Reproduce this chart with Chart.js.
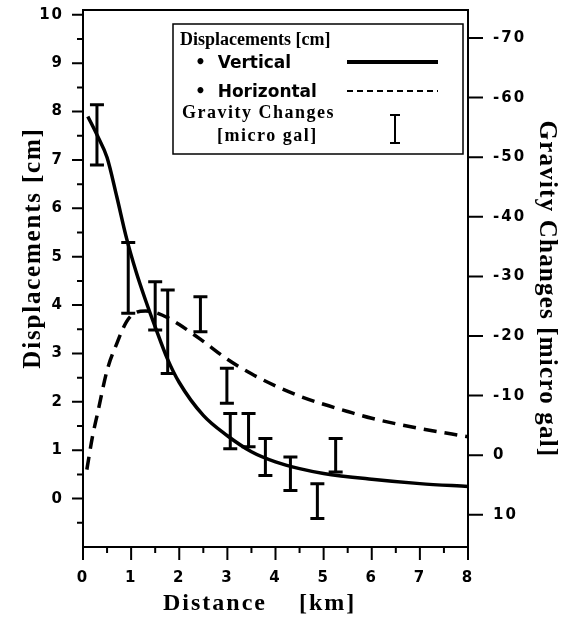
<!DOCTYPE html>
<html>
<head>
<meta charset="utf-8">
<script src="https://cdn.jsdelivr.net/npm/chart.js@4.4.1/dist/chart.umd.min.js"></script>
<style>
  html, body { margin: 0; padding: 0; background: #fff; }
  canvas { display: block; }
</style>
</head>
<body>
<canvas id="dispChart" width="570" height="621"></canvas>
<script>
// vertical displacement curve, distance [km] -> displacement [cm]
const vertX = [0.1, 0.3, 0.5, 0.7, 0.9, 1.1, 1.3, 1.5, 1.75, 2.0, 2.5, 3.0, 3.5, 4.0, 4.5, 5.0, 6.0, 7.0, 8.0];
const vertDisp = [7.9, 7.5, 7.05, 6.25, 5.4, 4.7, 4.1, 3.55, 2.9, 2.4, 1.72, 1.3, 0.97, 0.76, 0.62, 0.52, 0.4, 0.31, 0.25];

// horizontal displacement curve
const horizX = [0.08, 0.2, 0.3, 0.5, 0.7, 0.9, 1.1, 1.3, 1.5, 1.8, 2.0, 2.5, 3.0, 3.5, 4.0, 4.5, 5.0, 5.5, 6.0, 7.0, 8.0];
const horizDisp = [0.6, 1.3, 1.75, 2.65, 3.2, 3.65, 3.85, 3.88, 3.85, 3.72, 3.6, 3.25, 2.88, 2.58, 2.33, 2.12, 1.95, 1.8, 1.66, 1.45, 1.28];

// gravity changes [micro gal], error bar ends
const gravX = [0.29, 0.94, 1.5, 1.76, 2.44, 2.99, 3.06, 3.44, 3.79, 4.31, 4.87, 5.25];
const gravTop = [-58.8, -35.7, -29.1, -27.7, -26.6, -14.6, -7.0, -7.0, -2.8, 0.3, 4.8, -2.8];
const gravBottom = [-48.7, -23.8, -21.0, -13.7, -20.7, -8.7, -1.1, -1.4, 3.4, 5.9, 10.6, 2.8];

// tick labels
const xTicks = [0, 1, 2, 3, 4, 5, 6, 7, 8];
const yTicks = [0, 1, 2, 3, 4, 5, 6, 7, 8, 9, 10];
const gravTicks = [-70, -60, -50, -40, -30, -20, -10, 0, 10];

const tickFont = { family: 'DejaVu Sans', weight: 'bold', size: 15 };
const serif = '"Liberation Serif", "Times New Roman", serif';

// tick positions every half unit (minor ticks have no label)
function halfSteps(from, to) {
  const out = [];
  for (let v = from; v <= to + 1e-9; v += 0.5) out.push(v);
  return out;
}

const toPoints = (xs, ys) => xs.map((x, i) => ({ x: x, y: ys[i] }));

// fixed box size, no extra label padding around the plot
function fixBox(w, h) {
  return s => {
    if (w) s.width = w;
    if (h) s.height = h;
    s.paddingTop = 0; s.paddingBottom = 0; s.paddingLeft = 0; s.paddingRight = 0;
  };
}

const figurePlugin = {
  id: 'figure',
  beforeDraw(chart) {
    chart.ctx.letterSpacing = '2px';
  },
  afterDraw(chart) {
    const ctx = chart.ctx;
    const { left, right, top, bottom } = chart.chartArea;
    const sx = chart.scales.x, sy = chart.scales.y, sg = chart.scales.y2;
    ctx.save();
    ctx.letterSpacing = '0px';
    ctx.strokeStyle = '#000';
    ctx.fillStyle = '#000';

    // error bars for gravity changes
    ctx.lineWidth = 3;
    gravX.forEach((gx, i) => {
      const px = sx.getPixelForValue(gx);
      const y1 = sg.getPixelForValue(gravTop[i]);
      const y2 = sg.getPixelForValue(gravBottom[i]);
      ctx.beginPath();
      ctx.moveTo(px, y1); ctx.lineTo(px, y2);
      ctx.moveTo(px - 7, y1); ctx.lineTo(px + 7, y1);
      ctx.moveTo(px - 7, y2); ctx.lineTo(px + 7, y2);
      ctx.stroke();
    });

    // frame
    ctx.lineWidth = 2;
    ctx.strokeRect(left, top, right - left, bottom - top);

    // tick marks
    ctx.beginPath();
    halfSteps(0, 8).forEach(v => {
      const px = sx.getPixelForValue(v);
      const len = Number.isInteger(v) ? 13 : 6;
      ctx.moveTo(px, bottom); ctx.lineTo(px, bottom + len);
    });
    halfSteps(-0.5, 10).forEach(v => {
      const py = sy.getPixelForValue(v);
      const len = Number.isInteger(v) ? 11 : 6;
      ctx.moveTo(left, py); ctx.lineTo(left - len, py);
    });
    gravTicks.forEach(v => {
      const py = sg.getPixelForValue(v);
      ctx.moveTo(right, py); ctx.lineTo(right + 15, py);
    });
    ctx.stroke();

    // legend box
    ctx.lineWidth = 1.5;
    ctx.strokeRect(173, 24, 290, 130);
    ctx.textAlign = 'left';
    ctx.textBaseline = 'alphabetic';
    ctx.font = 'bold 18px ' + serif;
    ctx.fillText('Displacements [cm]', 180, 45);
    ctx.font = 'bold 17px "DejaVu Sans"';
    ctx.fillText('\u2022  Vertical', 195, 68);
    ctx.fillText('\u2022  Horizontal', 195, 97);
    ctx.lineWidth = 4;
    ctx.beginPath(); ctx.moveTo(347, 62); ctx.lineTo(438, 62); ctx.stroke();
    ctx.lineWidth = 2;
    ctx.setLineDash([6, 4]);
    ctx.beginPath(); ctx.moveTo(347, 91); ctx.lineTo(438, 91); ctx.stroke();
    ctx.setLineDash([]);
    ctx.font = 'bold 18px ' + serif;
    ctx.letterSpacing = '1.5px';
    ctx.fillText('Gravity Changes', 182, 118);
    ctx.fillText('[micro gal]', 217, 141);
    ctx.letterSpacing = '0px';
    ctx.beginPath();
    ctx.moveTo(395, 115); ctx.lineTo(395, 143);
    ctx.moveTo(390, 115); ctx.lineTo(400, 115);
    ctx.moveTo(390, 143); ctx.lineTo(400, 143);
    ctx.stroke();

    // axis titles
    ctx.font = 'bold 25px ' + serif;
    ctx.textAlign = 'center';
    ctx.save();
    ctx.translate(40, 248);
    ctx.rotate(-Math.PI / 2);
    ctx.letterSpacing = '1.8px';
    ctx.fillText('Displacements [cm]', 0, 0);
    ctx.restore();
    ctx.save();
    ctx.translate(540, 289);
    ctx.rotate(Math.PI / 2);
    ctx.letterSpacing = '1.2px';
    ctx.fillText('Gravity Changes [micro gal]', 0, 0);
    ctx.restore();
    ctx.font = 'bold 24px ' + serif;
    ctx.textAlign = 'left';
    ctx.letterSpacing = '2px';
    ctx.fillText('Distance    [km]', 163, 610);

    ctx.restore();
    ctx.letterSpacing = '0px';
  }
};

new Chart(document.getElementById('dispChart').getContext('2d'), {
  type: 'line',
  data: {
    datasets: [
      {
        label: 'Vertical',
        data: toPoints(vertX, vertDisp),
        borderColor: '#000',
        borderWidth: 3.5,
        pointRadius: 0,
        cubicInterpolationMode: 'monotone',
        yAxisID: 'y'
      },
      {
        label: 'Horizontal',
        data: toPoints(horizX, horizDisp),
        borderColor: '#000',
        borderWidth: 3.5,
        borderDash: [13, 8],
        pointRadius: 0,
        cubicInterpolationMode: 'monotone',
        yAxisID: 'y'
      },
      {
        label: 'Gravity Changes',
        data: gravX.map((x, i) => ({ x: x, y: (gravTop[i] + gravBottom[i]) / 2 })),
        showLine: false,
        pointRadius: 0,
        yAxisID: 'y2'
      }
    ]
  },
  options: {
    responsive: false,
    animation: false,
    layout: { padding: { top: 10, left: 0, right: 0, bottom: 0 } },
    plugins: { legend: { display: false }, tooltip: { enabled: false } },
    scales: {
      x: {
        type: 'linear',
        min: 0,
        max: 8,
        afterBuildTicks: s => { s.ticks = xTicks.map(v => ({ value: v })); },
        afterFit: fixBox(0, 74),
        grid: { display: false, drawTicks: false },
        border: { display: false },
        ticks: { padding: 22, color: '#000', font: tickFont, maxRotation: 0, autoSkip: false }
      },
      y: {
        type: 'linear',
        position: 'left',
        min: -1,
        max: 10.1,
        afterBuildTicks: s => { s.ticks = yTicks.map(v => ({ value: v })); },
        afterFit: fixBox(83, 0),
        grid: { display: false, drawTicks: false },
        border: { display: false },
        ticks: { padding: 19, color: '#000', font: tickFont, autoSkip: false }
      },
      y2: {
        type: 'linear',
        position: 'right',
        reverse: true,
        min: -74.7,
        max: 15.4,
        afterBuildTicks: s => { s.ticks = gravTicks.map(v => ({ value: v })); },
        afterFit: fixBox(102, 0),
        grid: { display: false, drawTicks: false },
        border: { display: false },
        ticks: { padding: 25, color: '#000', font: tickFont, autoSkip: false }
      }
    }
  },
  plugins: [figurePlugin]
});
</script>
</body>
</html>
